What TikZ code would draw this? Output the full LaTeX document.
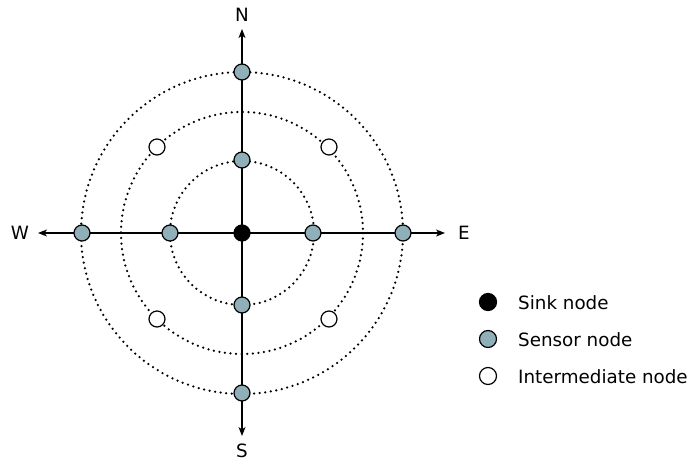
\documentclass[tikz,border=0pt]{standalone}
\usepackage{fontspec}
\setmainfont{DejaVu Sans}
\usetikzlibrary{arrows.meta}
\definecolor{sensorc}{RGB}{143,176,184}
\begin{document}
\begin{tikzpicture}[x=1pt,y=-1pt,
  dotc/.style={line width=2.5pt,dash pattern=on 0pt off 5.6pt,line cap=round},
  axis/.style={line width=1.1pt,{Stealth[length=9pt,width=7pt,inset=2.5pt]}-{Stealth[length=9pt,width=7pt,inset=2.5pt]}},
  nd/.style={circle,draw=black,line width=1.2pt,minimum size=16pt,inner sep=0pt},
  sink/.style={nd,fill=black},
  sensor/.style={nd,fill=sensorc},
  inter/.style={nd,fill=white},
  lbl/.style={inner sep=0pt,font=\fontsize{18.3}{22}\selectfont},
  leg/.style={inner sep=0pt,anchor=base west,font=\fontsize{18.3}{22}\selectfont}]
\useasboundingbox (0,0) rectangle (694,461);
\coordinate (C) at (242,233);
\draw[dotc] (C) circle[radius=72];
\draw[dotc] (C) circle[radius=121];
\draw[dotc] (C) circle[radius=161];
\coordinate (Nt) at (242,29);
\coordinate (St) at (242,436);
\coordinate (Wt) at (38,233);
\coordinate (Et) at (445,233);
\draw[axis] (Nt) -- (St);
\draw[axis] (Wt) -- (Et);
\node[lbl] (N) at (242,15) {N};
\node[lbl] (S) at (242,451) {S};
\node[lbl] (W) at (20,233) {W};
\node[lbl] (E) at (464,233) {E};
\node[sink] (c) at (C) {};
\node[sensor] (n1) at (242,160) {};
\node[sensor] (n2) at (242,72) {};
\node[sensor] (s1) at (242,305) {};
\node[sensor] (s2) at (242,393) {};
\node[sensor] (e1) at (313,233) {};
\node[sensor] (e2) at (403,233) {};
\node[sensor] (w1) at (170,233) {};
\node[sensor] (w2) at (82,233) {};
\node[inter] (i1) at (157,147) {};
\node[inter] (i2) at (329,147) {};
\node[inter] (i3) at (157,319) {};
\node[inter] (i4) at (329,319) {};
\node[sink,minimum size=17pt] (l1) at (488,302) {};
\node[sensor,minimum size=17pt] (l2) at (488,339) {};
\node[inter,minimum size=17pt] (l3) at (488,376) {};
\node[leg] (t1) at (518,309) {Sink node};
\node[leg] (t2) at (518,346) {Sensor node};
\node[leg] (t3) at (518,383) {Intermediate node};
\end{tikzpicture}
\end{document}
